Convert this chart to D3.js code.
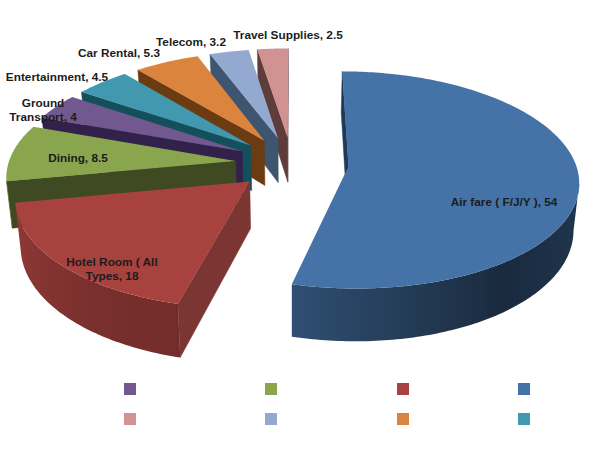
<!DOCTYPE html>
<html>
<head>
<meta charset="utf-8">
<script src="https://cdn.jsdelivr.net/npm/d3@7/dist/d3.min.js"></script>
<style>
  html, body { margin: 0; padding: 0; background: #fff; }
  svg { display: block; }
  text { font-family: "Liberation Sans", Arial, sans-serif; font-weight: bold; font-size: 11.8px; fill: #1c1c1c; }
</style>
</head>
<body>
<svg id="chart" width="600" height="450"></svg>
<script>
// Travel spend by category, percent of total
const categories = ["Air fare ( F/J/Y )", "Hotel Room ( All Types", "Dining", "Ground Transport",
                    "Entertainment", "Car Rental", "Telecom", "Travel Supplies"];
const values = [54, 18, 8.5, 4, 4.5, 5.3, 3.2, 2.5];

// Label text, one entry per line, and where each block is centred
const labelLines = [["Air fare ( F/J/Y ), 54"], ["Hotel Room ( All", "Types, 18"], ["Dining, 8.5"],
                    ["Ground", "Transport, 4"], ["Entertainment, 4.5"], ["Car Rental, 5.3"],
                    ["Telecom, 3.2"], ["Travel Supplies, 2.5"]];
const labelX = [504, 112, 78, 43, 57, 119, 191, 288];
const labelY = [206, 273, 162, 114, 81, 57, 46, 39];

const topColors = ["#4573a7", "#a8423f", "#89a54e", "#71588f", "#4298af", "#db843d", "#93a9cf", "#d19392"];
const wallColors = ["#1f3a58", "#7b3634", "#3f4a22", "#32214a", "#14505c", "#6b3b12", "#3e5570", "#5f3c3c"];

// Legend swatches: series index per row and the column positions
const legendRows = [[3, 2, 1, 0], [7, 6, 5, 4]];
const legendColumns = [124, 265, 397, 518];
const legendRowY = [383, 413];

// View parameters of the tilted, exploded pie
const center = { x: 292, y: 163 };
const radiusX = 227, radiusY = 106, tilt = 0.125;
const explode = 0.25, depth = 46, baseShrink = 0.98;

const svg = d3.select("#chart");
const defs = svg.append("defs");
const slices = d3.pie().sort(null).value(d => d)(values);

const focal = v => 1 / (1 + tilt * v);

// Disc coordinates to the screen, on the top face or on the underside
function project(u, v, lower) {
  const f = focal(v);
  const x = u * radiusX * f, y = -v * radiusY * f;
  return lower
    ? [center.x + x * baseShrink, center.y + y + depth * f]
    : [center.x + x, center.y + y];
}

const polar = (a, r) => [Math.sin(a) * r, Math.cos(a) * r];
const line = d3.line();

// Brightness of the rim wall as it turns around the pie (angle in degrees)
const rimShade = d3.scaleLinear()
  .domain([95, 145, 166, 194, 215, 259])
  .range([0.5, 0.37, 0.5, 0.68, 0.72, 0.88])
  .clamp(true);

// Flat radial wall; only walls running right to left on a clockwise outline face the viewer
function radialWall(g, fill, a, b) {
  const ta = project(a.u, a.v), tb = project(b.u, b.v);
  if (tb[0] >= ta[0]) return;
  const pts = [ta, tb, project(b.u, b.v, true), project(a.u, a.v, true)];
  g.append("path").attr("d", line(pts) + "Z").attr("fill", fill).attr("stroke", fill).attr("stroke-width", 0.5);
}

// Curved outer wall, shaded with one horizontal gradient across its visible stretch
function rimWall(g, i, rim) {
  const shown = rim.filter((p, j) =>
    (j < rim.length - 1 && project(rim[j + 1].u, rim[j + 1].v)[0] < project(p.u, p.v)[0]) ||
    (j > 0 && project(p.u, p.v)[0] < project(rim[j - 1].u, rim[j - 1].v)[0]));
  if (shown.length < 2) return;

  const xs = shown.map(p => project(p.u, p.v)[0]);
  const xScale = d3.scaleLinear().domain(d3.extent(xs)).range([0, 1]);
  const base = d3.rgb(topColors[i]);
  const grad = defs.append("linearGradient").attr("id", "rim" + i)
    .attr("gradientUnits", "userSpaceOnUse")
    .attr("x1", d3.min(xs)).attr("x2", d3.max(xs)).attr("y1", 0).attr("y2", 0);
  shown.slice().reverse().forEach(p => {
    const k = rimShade(p.a * 180 / Math.PI);
    grad.append("stop").attr("offset", xScale(project(p.u, p.v)[0]))
      .attr("stop-color", d3.rgb(base.r * k, base.g * k, base.b * k).formatHex());
  });

  const pts = shown.map(p => project(p.u, p.v))
    .concat(shown.slice().reverse().map(p => project(p.u, p.v, true)));
  g.append("path").attr("d", line(pts) + "Z").attr("fill", `url(#rim${i})`);
}

// Painted from the far slices to the near ones
const order = [7, 6, 5, 4, 3, 2, 1, 0];
order.forEach(i => {
  const s = slices[i];
  const mid = (s.startAngle + s.endAngle) / 2;
  const [ou, ov] = polar(mid, explode);
  const g = svg.append("g").attr("class", "slice");
  const apex = { u: ou, v: ov };

  const rim = d3.range(0, 1.0001, 1 / Math.max(2, Math.ceil((s.endAngle - s.startAngle) * 60)))
    .map(t => {
      const a = s.startAngle + t * (s.endAngle - s.startAngle);
      const [pu, pv] = polar(a, 1);
      return { a, u: ou + pu, v: ov + pv };
    });

  radialWall(g, wallColors[i], apex, rim[0]);
  radialWall(g, wallColors[i], rim[rim.length - 1], apex);
  rimWall(g, i, rim);

  const outline = [project(ou, ov)].concat(rim.map(p => project(p.u, p.v)));
  g.append("path").attr("d", line(outline) + "Z").attr("fill", topColors[i]);
});

// Data labels
labelLines.forEach((lines, i) => {
  const t = svg.append("text").attr("text-anchor", "middle").attr("x", labelX[i]).attr("y", labelY[i] - (lines.length - 1) * 7);
  lines.forEach((l, j) => t.append("tspan").attr("x", labelX[i]).attr("dy", j ? 14 : 0).text(l));
});

// Legend swatches
legendRows.forEach((row, r) => row.forEach((idx, c) => {
  svg.append("rect").attr("x", legendColumns[c]).attr("y", legendRowY[r])
    .attr("width", 12).attr("height", 12).attr("fill", topColors[idx]);
}));
</script>
</body>
</html>
